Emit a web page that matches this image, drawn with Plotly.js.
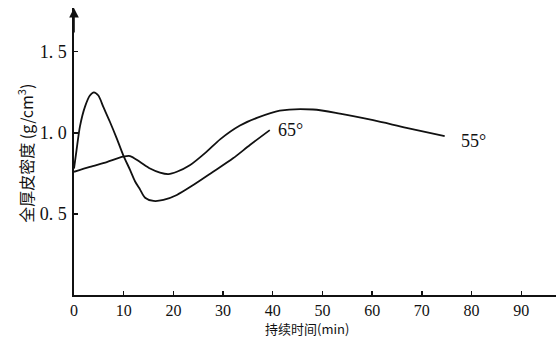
<!DOCTYPE html>
<html>
<head>
<meta charset="utf-8">
<script src="https://cdn.plot.ly/plotly-3.0.1.min.js"></script>
<style>html,body{margin:0;padding:0;background:#fff;}#chart{width:556px;height:338px;}</style>
</head>
<body>
<div id="chart"></div>
<script>
// 65° series: time (min) and full-thickness skin density (g/cm3)
const t65 = [0, 0.5, 1.2, 2.2, 3.2, 4.0, 4.9, 5.9, 7.2, 8.6, 9.9, 11.3, 12.3, 13.3, 14.3, 16, 18, 20.7, 24, 28, 32, 35.4, 39.4];
const d65 = [0.78, 0.89, 1.04, 1.16, 1.23, 1.25, 1.23, 1.16, 1.07, 0.966, 0.863, 0.77, 0.70, 0.65, 0.60, 0.58, 0.586, 0.617, 0.678, 0.76, 0.843, 0.925, 1.017];
// 55° series
const t55 = [0, 3.2, 6.6, 9.9, 11.3, 13.3, 15.3, 17.3, 19, 20.7, 23.3, 26.7, 29.4, 33.4, 36.8, 41.4, 48.1, 53.5, 60.2, 66.9, 74.6];
const d55 = [0.76, 0.79, 0.82, 0.853, 0.857, 0.82, 0.78, 0.755, 0.746, 0.76, 0.80, 0.884, 0.96, 1.045, 1.092, 1.137, 1.144, 1.119, 1.078, 1.031, 0.98];
// tick labels
const xTickVals = [0, 10, 20, 30, 40, 50, 60, 70, 80, 90];
const xTickText = ['0', '10', '20', '30', '40', '50', '60', '70', '80', '90'];
const yTickVals = [0.5, 1.0, 1.5];
const yTickText = ['0. 5', '1. 0', '1. 5'];
const seriesLabels = ['65°', '55°'];
const yTitle = '全厚皮密度 (g/cm<sup>3</sup>)';
const xTitle = '持续时间(min)';

const serif = 'Times New Roman, Liberation Serif, DejaVu Serif, serif';
const cjk = 'Noto Sans CJK SC';

const traces = [
  {x: t65, y: d65, mode: 'lines', line: {color: '#111', width: 1.8, shape: 'spline', smoothing: 0.8}, name: seriesLabels[0], hoverinfo: 'x+y'},
  {x: t55, y: d55, mode: 'lines', line: {color: '#111', width: 1.8, shape: 'spline', smoothing: 0.8}, name: seriesLabels[1], hoverinfo: 'x+y'}
];

const layout = {
  width: 556, height: 338,
  margin: {l: 74, r: 0, t: 8, b: 43},
  paper_bgcolor: '#fff', plot_bgcolor: '#fff',
  showlegend: false,
  font: {family: serif, color: '#111', size: 17},
  xaxis: {
    range: [0, 97], showgrid: false, zeroline: false,
    showline: true, linecolor: '#111', linewidth: 1.6,
    ticks: 'inside', ticklen: 4, tickwidth: 1.4, tickcolor: '#111',
    tickvals: xTickVals, ticktext: xTickText,
    tickfont: {family: serif, size: 16, color: '#111'},
    ticklabelstandoff: 0
  },
  yaxis: {
    range: [0, 1.77], showgrid: false, zeroline: false,
    showline: true, linecolor: '#111', linewidth: 1.6,
    ticks: 'inside', ticklen: 4, tickwidth: 1.4, tickcolor: '#111',
    tickvals: yTickVals, ticktext: yTickText,
    tickfont: {family: serif, size: 18, color: '#111'},
    ticklabelstandoff: 2
  },
  annotations: [
    {x: 0, y: 1.77, xref: 'x', yref: 'y', ax: 0, ay: 26, axref: 'pixel', ayref: 'pixel',
     showarrow: true, arrowhead: 2, arrowsize: 1.2, arrowwidth: 1.6, arrowcolor: '#111', text: ''},
    {x: t65[t65.length - 1] + 1.2, y: d65[d65.length - 1], xref: 'x', yref: 'y', text: seriesLabels[0],
     showarrow: false, xanchor: 'left', yanchor: 'middle', font: {family: serif, size: 18, color: '#111'}},
    {x: t55[t55.length - 1] + 2.8, y: d55[d55.length - 1] - 0.03, xref: 'x', yref: 'y', text: seriesLabels[1],
     showarrow: false, xanchor: 'left', yanchor: 'middle', font: {family: serif, size: 18, color: '#111'}},
    {x: -0.1, y: 0.495, xref: 'paper', yref: 'paper', text: yTitle, textangle: -90,
     showarrow: false, xanchor: 'center', yanchor: 'middle', font: {family: cjk, size: 16, color: '#111'}},
    {x: 0.483, y: 0, xref: 'paper', yref: 'paper', yshift: -44, text: xTitle,
     showarrow: false, xanchor: 'center', yanchor: 'bottom', font: {family: cjk, size: 13, color: '#111'}, borderpad: 0}
  ]
};

Plotly.newPlot('chart', traces, layout, {staticPlot: true, displayModeBar: false});
</script>
</body>
</html>
